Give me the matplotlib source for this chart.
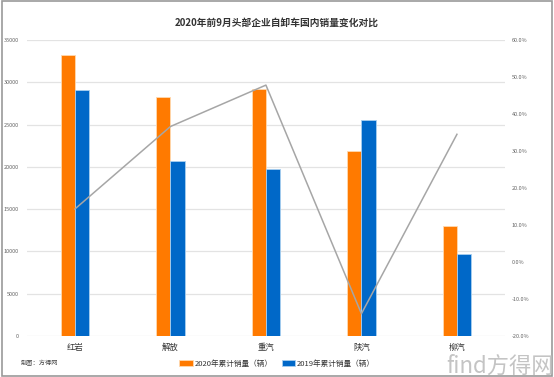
import numpy as np
import matplotlib.pyplot as plt
from matplotlib.patches import Rectangle

plt.rcParams['font.family'] = ['Noto Sans CJK SC', 'DejaVu Sans']

# data
brands = ['红岩', '解放', '重汽', '陕汽', '柳汽']
sales_2020 = [33200, 28250, 29200, 21900, 13000]
sales_2019 = [29050, 20700, 19750, 25500, 9700]
growth = [14.3, 36.6, 47.8, -14.0, 34.5]

left_ticks = [0, 5000, 10000, 15000, 20000, 25000, 30000, 35000]
right_ticks = [-20, -10, 0, 10, 20, 30, 40, 50, 60]

fig = plt.figure(figsize=(5.54, 3.77), dpi=100)
fig.patches.append(Rectangle((0.003, 0.003), 0.994, 0.994, transform=fig.transFigure,
                             fill=False, edgecolor='#9a9a9a', linewidth=1.2))

ax = fig.add_axes([0.049, 0.109, 0.862, 0.785])
x = np.arange(len(brands))
w = 0.15
ax.bar(x - w / 2, sales_2020, w, color='#FF7A00', edgecolor='#FFD9B0', linewidth=0.6,
       label='2020年累计销量（辆）', zorder=3)
ax.bar(x + w / 2, sales_2019, w, color='#0068C8', edgecolor='#A8CFF0', linewidth=0.6,
       label='2019年累计销量（辆）', zorder=3)

ax.set_xlim(-0.5, len(brands) - 0.5)
ax.set_ylim(0, 35000)
ax.set_yticks(left_ticks)
ax.set_yticklabels([str(t) for t in left_ticks])
ax.set_xticks(x)
ax.set_xticklabels(brands, fontsize=6, color='#333333')
ax.tick_params(axis='y', labelsize=4, colors='#666666', length=0, pad=6)
ax.tick_params(axis='x', length=0, pad=5)
ax.grid(axis='y', color='#e3e3e3', linewidth=0.9, zorder=0)
for s in ax.spines.values():
    s.set_visible(False)

ax2 = ax.twinx()
ax2.plot(x, growth, color='#A6A6A6', linewidth=1.1, zorder=4)
ax2.set_ylim(-20, 60)
ax2.set_yticks(right_ticks)
ax2.set_yticklabels([f'{t:.1f}%' for t in right_ticks])
ax2.tick_params(axis='y', labelsize=4, colors='#666666', length=0, pad=5)
for s in ax2.spines.values():
    s.set_visible(False)

fig.text(0.5, 0.94, '2020年前9月头部企业自卸车国内销量变化对比', ha='center', va='center',
         fontsize=7, fontweight='bold', color='#333333')

h1, l1 = ax.get_legend_handles_labels()
fig.legend(h1, l1, loc='center', bbox_to_anchor=(0.5, 0.035), ncol=2, frameon=False,
           fontsize=5.5, handlelength=1.8, handleheight=0.7, columnspacing=1.2,
           handletextpad=0.2, labelcolor='#333333')

fig.text(0.038, 0.037, '制图：方得网', fontsize=4.5, color='#444444', va='center')
fig.text(1.0, 0.028, 'find方得网', fontsize=16, color='#c4c4c4', ha='right', va='center')

fig.savefig('out.png', dpi=100)
